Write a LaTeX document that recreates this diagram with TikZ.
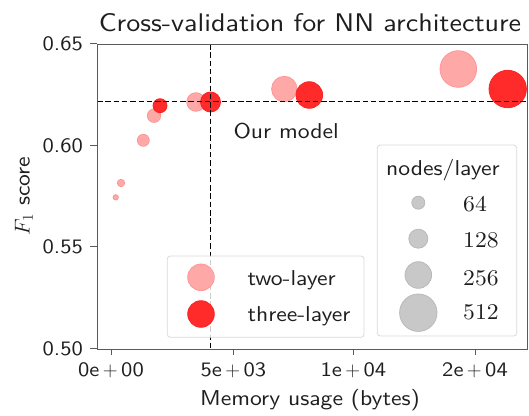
\RequirePackage{fix-cm}
\documentclass[tikz,border=0pt]{standalone}
\usepackage{tikz}
\usepackage{fontspec}
\setsansfont{lmsans10-regular.otf}[FakeStretch=1.1]
\newfontfamily\numfont{lmroman10-regular.otf}[FakeStretch=1.05]
\definecolor{twocol}{RGB}{255,168,168}
\definecolor{twoedge}{RGB}{255,150,150}
\definecolor{threecol}{RGB}{255,42,42}
\definecolor{threeedge}{RGB}{250,35,35}
\definecolor{legcol}{RGB}{200,200,200}
\definecolor{legedge}{RGB}{185,185,185}
\definecolor{txt}{RGB}{30,30,30}
\definecolor{spine}{RGB}{90,90,90}
\tikzset{
  twopt/.style={fill=twocol, draw=twoedge, line width=0.8pt},
  threept/.style={fill=threecol, draw=threeedge, line width=0.8pt},
  legpt/.style={fill=legcol, draw=legedge, line width=0.8pt},
  refline/.style={black, line width=1.2pt, dash pattern=on 5.5pt off 2.8pt},
  legbox/.style={fill=white, fill opacity=0.8, draw=black!15, line width=0.8pt, rounded corners=3pt},
  ticklab/.style={text=txt, font=\sffamily\fontsize{20.5}{22}\selectfont, inner sep=0pt},
  lab/.style={text=txt, font=\sffamily\fontsize{21.5}{24}\selectfont, inner sep=0pt},
  numlab/.style={text=txt, font=\numfont\fontsize{22.5}{25}\selectfont, inner sep=0pt},
  titlelab/.style={text=txt, font=\sffamily\fontsize{25.5}{28}\selectfont, inner sep=0pt},
}
\newcommand{\plusgap}{\kern.17em$+$\kern.17em}
\begin{document}
\begin{tikzpicture}[x=1pt, y=-1pt]
\useasboundingbox (0,0) rectangle (529,415);
% data points
\path[twopt] (115.7,197.3) circle (2.7);
\path[twopt] (121,183) circle (3.7);
\path[twopt] (143.3,140.3) circle (6);
\path[twopt] (154,115.7) circle (6.7);
\path[twopt] (196,102) circle (9.3);
\path[twopt] (284.3,89) circle (12.7);
\path[twopt] (458.3,69) circle (18.3);
\path[threept] (160,105.7) circle (7);
\path[threept] (210.5,102) circle (10);
\path[threept] (309.3,95) circle (13.3);
\path[threept] (507.7,89) circle (18.7);
% reference lines
\coordinate (hl) at (97,101.7);
\coordinate (hr) at (527.5,101.7);
\coordinate (vt) at (210.7,44);
\coordinate (vb) at (210.7,349);
\draw[refline] (hl) -- (hr);
\draw[refline] (vt) -- (vb);
\node[lab, anchor=base west] (ourmodel) at (233.3,138.3) {Our model};
% legends
\path[legbox] (167.3,256) rectangle (364,337.3);
\path[twopt] (201,277.3) circle (13.3);
\path[threept] (201,314) circle (13.3);
\node[lab, anchor=base west] (ltwo) at (247.3,285) {two-layer};
\node[lab, anchor=base west] (lthree) at (247.3,321.7) {three-layer};
\path[legbox] (377.3,145) rectangle (516.7,336);
\node[lab, anchor=base] (ltitle) at (443,175) {nodes/layer};
\path[legpt] (418.3,202.7) circle (6.5);
\path[legpt] (418.3,238.7) circle (9.5);
\path[legpt] (418.3,275) circle (13.3);
\path[legpt] (418.3,312.7) circle (18.7);
\node[numlab, anchor=base west] (n64) at (463,211) {64};
\node[numlab, anchor=base west] (n128) at (463,247.3) {128};
\node[numlab, anchor=base west] (n256) at (463,285) {256};
\node[numlab, anchor=base west] (n512) at (463,319.3) {512};
% axes
\draw[spine, line width=1pt] (97,44) rectangle (527.5,349);
\foreach \y/\t in {43.8/0.65,145.3/0.60,246.9/0.55,348.6/0.50}{
  \draw[spine, line width=1pt] (97,\y) -- (90,\y);
  \node[ticklab, anchor=east] at (83,\y) {\t};
}
\foreach \x in {111,233.3,353.3,475}{
  \draw[spine, line width=1pt] (\x,349) -- (\x,355);
}
\node[ticklab, anchor=base] (x0) at (111,376) {0e\plusgap00};
\node[ticklab, anchor=base] (x1) at (233.3,376) {5e\plusgap03};
\node[ticklab, anchor=base] (x2) at (353.3,376) {1e\plusgap04};
\node[ticklab, anchor=base] (x3) at (475,376) {2e\plusgap04};
\node[lab, anchor=base] (xlab) at (310,405) {Memory usage (bytes)};
\node[lab, rotate=90, anchor=center] (ylab) at (24,196) {$F_1$ score};
\node[titlelab, anchor=base] (title) at (310,31.7) {Cross-validation for NN architecture};
\end{tikzpicture}
\end{document}
